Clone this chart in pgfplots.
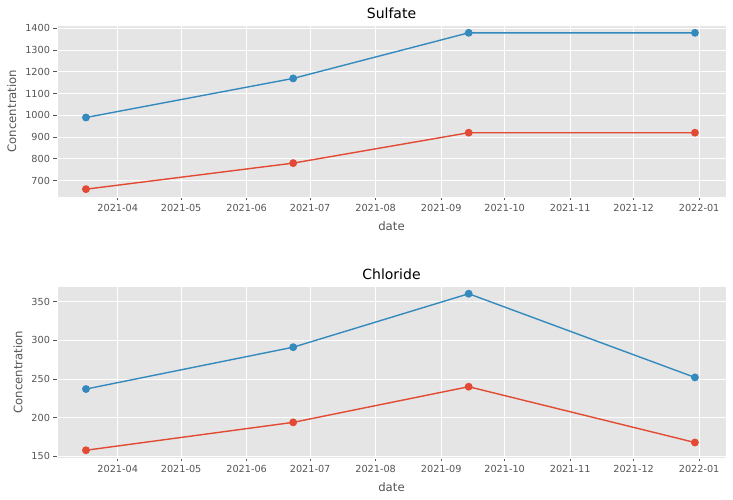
\documentclass[border=0pt]{standalone}
\usepackage{pgfplots}
\pgfplotsset{compat=1.18}
\usepackage{fontspec}
\setmainfont{DejaVu Sans}
\definecolor{bgc}{HTML}{E5E5E5}
\definecolor{tickc}{HTML}{555555}
\definecolor{ggred}{HTML}{E24A33}
\definecolor{ggblue}{HTML}{348ABD}
\pgfplotsset{
  ggstyle/.style={
    scale only axis, width=669pt, height=172pt, anchor=south west,
    xmin=61.3, xmax=377.7,
    axis background/.style={fill=bgc},
    grid=major, major grid style={white, line width=0.9pt},
    axis line style={white, line width=0.9pt},
    tick align=outside, major tick length=3.5pt,
    tick style={color=tickc, line width=0.8pt},
    xtick pos=lower, ytick pos=left,
    xtick={90,120,151,181,212,243,273,304,334,365},
    xticklabels={2021-04,2021-05,2021-06,2021-07,2021-08,2021-09,2021-10,2021-11,2021-12,2022-01},
    ticklabel style={font=\fontsize{9.7}{11}\selectfont, text=tickc},
    /pgf/number format/assume math mode=true,
    /pgf/number format/1000 sep={},
    label style={font=\fontsize{11.7}{13}\selectfont, text=tickc},
    xlabel shift=3pt, ylabel shift=2pt,
    title style={font=\fontsize{14}{16}\selectfont, text=black, yshift=-3pt},
    xlabel=date, ylabel=Concentration,
    every axis plot/.append style={line width=1.4pt, mark=*, mark size=3.2pt},
  }
}
\begin{document}
\begin{tikzpicture}
\useasboundingbox (0,0) rectangle (733pt,500pt);
\begin{axis}[ggstyle, at={(57pt,303pt)}, ymin=624, ymax=1416,
  ytick={700,800,...,1400}, title=Sulfate]
\addplot[ggred, mark options={fill=ggred}] coordinates {(75,660) (173,780) (256,920) (363,920)};
\addplot[ggblue, mark options={fill=ggblue}] coordinates {(75,990) (173,1170) (256,1380) (363,1380)};
\end{axis}
\begin{axis}[ggstyle, at={(57pt,42pt)}, ymin=148, ymax=370,
  ytick={150,200,...,350}, title=Chloride]
\addplot[ggred, mark options={fill=ggred}] coordinates {(75,158) (173,194) (256,240) (363,168)};
\addplot[ggblue, mark options={fill=ggblue}] coordinates {(75,237) (173,291) (256,360) (363,252)};
\end{axis}
\end{tikzpicture}
\end{document}
